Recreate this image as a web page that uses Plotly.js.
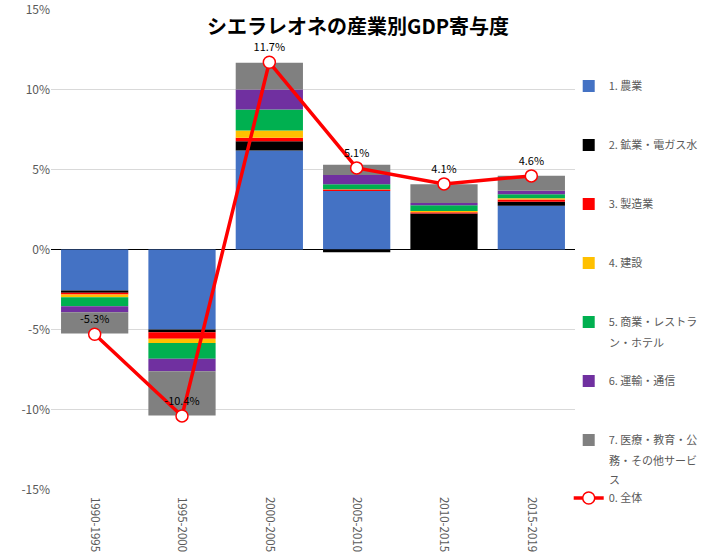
<!DOCTYPE html>
<html>
<head>
<meta charset="utf-8">
<script src="https://cdn.plot.ly/plotly-3.0.1.min.js"></script>
<style>
  body { margin: 0; background: #fff; }
  #chart { width: 709px; height: 553px; }
</style>
</head>
<body>
<div id="chart"></div>
<script>
// periods
var periods = ["1990-1995", "1995-2000", "2000-2005", "2005-2010", "2010-2015", "2015-2019"];

// contribution by sector, % points
var agriculture   = [-2.56, -5.00, 6.19, 3.65, 0.00, 2.73];
var miningUtil    = [-0.15, -0.17, 0.58, -0.17, 2.25, 0.25];
var manufacturing = [-0.10, -0.40, 0.21, 0.10, 0.08, 0.15];
var construction  = [-0.17, -0.27, 0.46, 0.02, 0.08, 0.08];
var tradeHotels   = [-0.56, -0.98, 1.31, 0.31, 0.35, 0.25];
var transportComm = [-0.38, -0.79, 1.25, 0.58, 0.15, 0.21];
var otherServices = [-1.33, -2.77, 1.67, 0.64, 1.17, 0.94];
var totalGrowth   = [-5.3, -10.4, 11.7, 5.1, 4.1, 4.6];

// legend names; long ones wrap onto extra lines like the original
var sectorNames = [
  "1. 農業",
  "2. 鉱業・電ガス水",
  "3. 製造業",
  "4. 建設",
  "5. 商業・レストラ",
  "6. 運輸・通信",
  "7. 医療・教育・公"
];
var nameWraps = [[], [], [], [], ["ン・ホテル"], [], ["務・その他サービ", "ス"]];
var totalName = "0. 全体";

var sectorValues = [agriculture, miningUtil, manufacturing, construction, tradeHotels, transportComm, otherServices];
var sectorColors = ["#4472C4", "#000000", "#FF0000", "#FFC000", "#00B050", "#7030A0", "#808080"];

var FONT = '"Noto Sans CJK JP", "Noto Sans", sans-serif';

// legend rows sit at fixed pixel heights like the original
var legendY = [86, 145, 204, 263, 322, 381, 440, 498];
var lineStep = 19.5;
var plotLeft = 51, plotRight = 575, plotTop = 9, plotBottom = 490;

function paperY(px) {
  return (plotBottom - px) / (plotBottom - plotTop);
}
function paperX(px) {
  return (px - plotLeft) / (plotRight - plotLeft);
}

var traces = [];
sectorValues.forEach(function (vals, i) {
  traces.push({
    type: "bar",
    x: periods,
    y: vals,
    name: sectorNames[i],
    marker: {color: sectorColors[i]},
    legend: i === 0 ? "legend" : "legend" + (i + 1)
  });
});

traces.push({
  type: "scatter",
  mode: "lines+markers+text",
  x: periods,
  y: totalGrowth,
  name: totalName,
  line: {color: "#FF0000", width: 3.5},
  marker: {size: 12, color: "#FFFFFF", line: {color: "#FF0000", width: 1.5}},
  texttemplate: "%{y:.1f}%",
  textposition: "top center",
  textfont: {family: FONT, size: 11, color: "#000000"},
  legend: "legend8"
});

var layout = {
  width: 709,
  height: 553,
  margin: {l: plotLeft, r: 709 - plotRight, t: plotTop, b: 553 - plotBottom, autoexpand: false},
  paper_bgcolor: "#ffffff",
  plot_bgcolor: "#ffffff",
  barmode: "relative",
  bargap: 0.23,
  font: {family: FONT, color: "#595959"},
  title: {
    text: "<b>シエラレオネの産業別GDP寄与度</b>",
    font: {family: FONT, size: 20, color: "#000000"},
    xref: "container", x: 0.505,
    yref: "container", y: 1 - 27 / 553, yanchor: "middle"
  },
  xaxis: {
    type: "category",
    tickangle: 90,
    tickfont: {family: FONT, size: 11.5, color: "#595959"},
    ticklabelstandoff: 6,
    ticklabeloverflow: "allow",
    showgrid: false,
    showline: false,
    ticks: ""
  },
  yaxis: {
    range: [-15.03, 15.03],
    tickvals: [-15, -10, -5, 0, 5, 10, 15],
    ticktext: ["-15%", "-10%", "-5%", "0%", "5%", "10%", "15%"],
    ticklabeloverflow: "allow",
    tickfont: {family: FONT, size: 12, color: "#595959"},
    gridcolor: "#D9D9D9",
    gridwidth: 1,
    zeroline: true,
    zerolinecolor: "#000000",
    zerolinewidth: 1.2,
    showline: false
  },
  showlegend: true,
  annotations: []
};

legendY.forEach(function (py, i) {
  var key = i === 0 ? "legend" : "legend" + (i + 1);
  layout[key] = {
    x: 0.988,
    xanchor: "left",
    y: paperY(py),
    yanchor: "middle",
    bgcolor: "rgba(0,0,0,0)",
    font: {family: FONT, size: 11, color: "#595959"},
    itemwidth: 30
  };
});

// wrapped continuation lines of the long legend names
nameWraps.forEach(function (lines, i) {
  lines.forEach(function (txt, k) {
    layout.annotations.push({
      xref: "paper", yref: "paper",
      x: paperX(607), xanchor: "left",
      y: paperY(legendY[i] + lineStep * (k + 1)), yanchor: "middle",
      text: txt,
      showarrow: false,
      font: {family: FONT, size: 11, color: "#595959"}
    });
  });
});

Plotly.newPlot("chart", traces, layout, {displayModeBar: false, staticPlot: true});
</script>
</body>
</html>
